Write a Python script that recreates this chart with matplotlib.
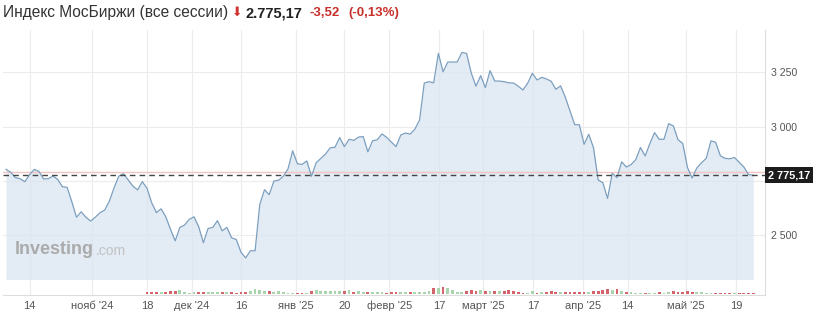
import numpy as np
import matplotlib
matplotlib.use("Agg")
import matplotlib.pyplot as plt
from matplotlib.transforms import blended_transform_factory

plt.rcParams['font.family'] = ['Liberation Sans', 'DejaVu Sans']

# ---------------- data ----------------
prices = [
    2802, 2789, 2764, 2759, 2745, 2777, 2802, 2793, 2758, 2759,
    2771, 2756, 2722, 2719, 2653, 2581, 2606, 2581, 2563, 2581,
    2602, 2614, 2656, 2717, 2771, 2782, 2753, 2725, 2707, 2745,
    2715, 2648, 2602, 2620, 2583, 2525, 2472, 2534, 2545, 2571,
    2583, 2537, 2463, 2529, 2534, 2565, 2518, 2534, 2486, 2478,
    2419, 2393, 2426, 2426, 2640, 2708, 2685, 2748, 2752, 2770,
    2804, 2888, 2828, 2825, 2841, 2770, 2833, 2853, 2873, 2902,
    2904, 2949, 2907, 2941, 2936, 2951, 2954, 2883, 2934, 2939,
    2966, 2950, 2928, 2907, 2961, 2970, 2965, 2988, 3030, 3201,
    3207, 3202, 3338, 3253, 3298, 3298, 3298, 3342, 3338, 3247,
    3186, 3235, 3180, 3258, 3210, 3210, 3207, 3202, 3201, 3186,
    3169, 3200, 3246, 3215, 3227, 3220, 3209, 3172, 3188, 3136,
    3072, 3009, 3008, 2918, 2964, 2903, 2753, 2740, 2668, 2784,
    2764, 2837, 2813, 2824, 2847, 2903, 2864, 2921, 2972, 2941,
    2941, 3013, 3003, 2939, 2922, 2811, 2762, 2809, 2833, 2853,
    2934, 2927, 2865, 2853, 2851, 2857, 2835, 2813, 2778, 2775.17,
]

# relative traded volume (no volume shown for the first 30 sessions)
volumes = [0] * 30 + [
    2, 2, 2, 2, 2, 3, 3, 4, 2, 1.5,
    2, 2, 2.5, 2, 2, 2, 2, 2, 2, 1.5,
    2, 2, 3, 5, 4, 3, 3, 2, 3, 2,
    1.5, 1.5, 1, 1, 1, 3, 4, 3, 3, 3,
    3, 3, 3, 4, 2, 3, 2, 2, 2, 2,
    2, 1.5, 2, 2, 2, 2, 2, 2, 2.5, 2,
    3, 6, 6, 7, 6, 4, 2, 2, 3, 4,
    3, 4, 3, 3, 3, 3, 3, 4, 3, 2,
    1.5, 1.5, 3, 1.5, 2, 2, 3, 2, 2, 2,
    2, 2, 2, 2, 2, 3, 3, 4, 5, 4,
    5, 3, 2, 2, 1.5, 1.5, 1.5, 1.5, 1.5, 2,
    1.5, 2, 3, 2, 2, 3, 2, 2, 2, 1.5,
    1.5, 1.5, 1.5, 1.5, 1.5, 1.5, 1.5, 1.5, 1.5, 1.5,
]

tick_pos = [5, 18.4, 30, 39.5, 50.1, 61.6, 72, 81.6, 92.1, 101.6,
            112.2, 122.7, 132.3, 144.7, 155.3]
tick_labels = ["14", "нояб '24", "18", "дек '24", "16", "янв '25", "20",
               "февр '25", "17", "март '25", "17", "апр '25", "14",
               "май '25", "19"]

y_ticks = [2500, 2750, 3000, 3250]
y_tick_labels = ["2 500", "", "3 000", "3 250"]

last_price = 2775.17
ref_line = 2791
title = "Индекс МосБиржи (все сессии)"
price_txt = "2.775,17"
chg_txt = "-3,52"
pct_txt = "(-0,13%)"
box_txt = "2 775,17"

# ---------------- layout ----------------
W, H = 818, 314
fig = plt.figure(figsize=(W / 100, H / 100), dpi=100)


def rect(x0, y0, x1, y1):
    return [x0 / W, 1 - y1 / H, (x1 - x0) / W, (y1 - y0) / H]


ax = fig.add_axes(rect(3, 30, 765, 280))
axv = fig.add_axes(rect(3, 280, 765, 295), sharex=ax)

idx = np.arange(len(prices))
ymin, ymax = 2291, 3446
grid_c = '#ececec'

ax.fill_between(idx, prices, ymin, color='#dae6f2', alpha=0.75, lw=0, zorder=1)
ax.plot(idx, prices, color='#7c9fbf', lw=0.9, zorder=3)
ax.axhline(ref_line, color='#f3c4c4', lw=1.0, zorder=2)
ax.axhline(last_price, color='#444444', lw=1.0, ls=(0, (4, 3)), zorder=4)

ax.set_xlim(-0.64, 161.5)
ax.set_ylim(ymin, ymax)
ax.set_yticks(y_ticks)
ax.set_yticklabels(y_tick_labels)
ax.yaxis.tick_right()
ax.tick_params(axis='y', length=0, pad=4, labelsize=7.6, labelcolor='#555555')
ax.tick_params(axis='x', length=0, labelbottom=False)
ax.set_xticks(tick_pos)
ax.grid(True, color=grid_c, lw=0.8, zorder=0)
ax.set_axisbelow(True)
for s in ['top', 'left']:
    ax.spines[s].set_visible(False)
ax.spines['right'].set_color('#dddddd')
ax.spines['bottom'].set_color('#dddddd')

# price label box on the right axis
tr = blended_transform_factory(ax.transAxes, ax.transData)
ax.text(1.004, last_price, box_txt, transform=tr, ha='left', va='center',
        fontsize=7.8, fontweight='bold', color='white',
        bbox=dict(boxstyle='square,pad=0.25', fc='#1c1c1c', ec='none'),
        zorder=10, clip_on=False)

# volume
vol_colors = ['#a9d5ae' if (i > 0 and prices[i] >= prices[i - 1]) else '#d4636b'
              for i in range(len(prices))]
axv.bar(idx, volumes, width=0.6, color=vol_colors, lw=0, zorder=2)
axv.set_ylim(-0.7, 14.3)
axv.set_yticks([])
axv.set_xticks(tick_pos)
axv.set_xticklabels(tick_labels)
axv.tick_params(axis='x', length=0, pad=4, labelsize=8, labelcolor='#555555')
axv.grid(True, axis='x', color=grid_c, lw=0.8, zorder=0)
axv.set_axisbelow(True)
for s in ['top', 'left']:
    axv.spines[s].set_visible(False)
axv.spines['right'].set_color('#dddddd')
axv.spines['bottom'].set_color('#dddddd')

# watermark
fig.text(15 / W, 1 - 250 / H, "Investing", fontsize=13, fontweight='bold',
         color='#ababab', va='center', ha='left')
fig.text(96 / W, 1 - 251 / H, ".com", fontsize=10, color='#c2c2c2',
         va='center', ha='left')

# header
fig.text(3 / W, 1 - 13 / H, title, fontsize=11.2, color='#333333',
         va='center', ha='left')
fig.text(232 / W, 1 - 12 / H, "⬇", fontsize=9, color='#d0302c',
         va='center', ha='left', family=['DejaVu Sans'])
fig.text(246 / W, 1 - 13 / H, price_txt, fontsize=10.5, fontweight='bold',
         color='#222222', va='center', ha='left')
fig.text(310 / W, 1 - 13 / H, chg_txt, fontsize=9.5, fontweight='bold',
         color='#c8302b', va='center', ha='left')
fig.text(348 / W, 1 - 13 / H, pct_txt, fontsize=9.5, fontweight='bold',
         color='#c8302b', va='center', ha='left')

fig.savefig("out.png", dpi=100)
